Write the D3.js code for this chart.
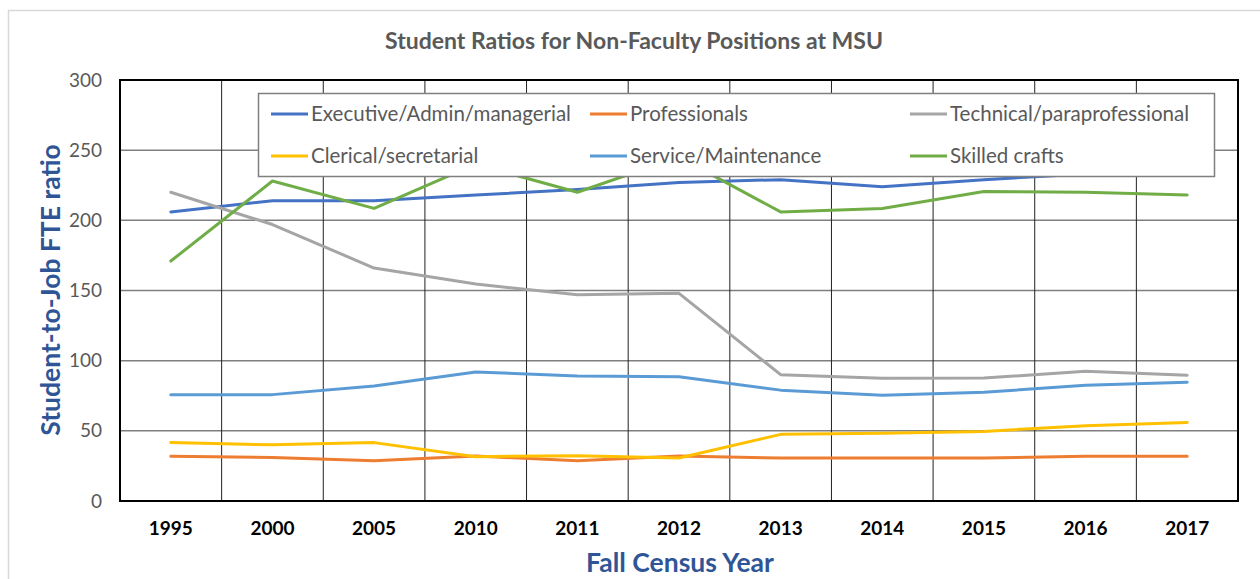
<!DOCTYPE html>
<html>
<head>
<meta charset="utf-8">
<script src="https://cdn.jsdelivr.net/npm/d3@7"></script>
<style>
  body { margin: 0; background: #fff; }
  svg { display: block; font-family: Lato, "Open Sans", sans-serif; }
</style>
</head>
<body>
<script>
var years = ["1995", "2000", "2005", "2010", "2011", "2012", "2013", "2014", "2015", "2016", "2017"];
var executive = [206, 214, 214, 218, 222, 227, 229, 224, 229, 233, 238];
var professionals = [31.8, 31, 28.7, 32, 28.7, 32, 30.6, 30.6, 30.6, 31.8, 31.8];
var technical = [220, 197, 166, 154.6, 147, 148, 90, 87.4, 87.6, 92.4, 89.6];
var clerical = [41.6, 40, 41.6, 31.6, 32.3, 30.6, 47.5, 48.2, 49.6, 53.7, 56];
var service = [75.8, 75.8, 82, 92, 89, 88.5, 79, 75.3, 77.5, 82.4, 84.6];
var skilled = [171, 228, 208.5, 240, 220, 245, 206, 208.5, 220.5, 220, 218];
var yTicks = [0, 50, 100, 150, 200, 250, 300];

var series = [
    { name: "Executive/Admin/managerial", values: executive, color: "#4472C4" },
    { name: "Professionals", values: professionals, color: "#ED7D31" },
    { name: "Technical/paraprofessional", values: technical, color: "#A5A5A5" },
    { name: "Clerical/secretarial", values: clerical, color: "#FFC000" },
    { name: "Service/Maintenance", values: service, color: "#5B9BD5" },
    { name: "Skilled crafts", values: skilled, color: "#70AD47" }
];

var width = 1260,
    height = 579,
    plotLeft = 120, plotRight = 1238, plotTop = 80, plotBottom = 501;

var svg = d3.select("body").append("svg")
    .attr("width", width)
    .attr("height", height);

// outer chart frame
svg.append("rect")
    .attr("x", 8.5).attr("y", 10.5)
    .attr("width", 1300).attr("height", 700)
    .attr("fill", "none")
    .attr("stroke", "#d9d9d9")
    .attr("stroke-width", 1.5);

var xScale = d3.scaleBand().domain(years).range([plotLeft, plotRight]);
var yScale = d3.scaleLinear().domain([0, 300]).range([plotBottom, plotTop]);

// horizontal gridlines
svg.append("g")
    .selectAll("line")
    .data(yTicks.slice(1, -1))
    .enter().append("line")
    .attr("x1", plotLeft).attr("x2", plotRight)
    .attr("y1", function (d) { return yScale(d); })
    .attr("y2", function (d) { return yScale(d); })
    .attr("stroke", "#7f7f7f")
    .attr("stroke-width", 1.5);

// vertical gridlines at category boundaries
svg.append("g")
    .selectAll("line")
    .data(years.slice(1))
    .enter().append("line")
    .attr("x1", function (d) { return xScale(d); })
    .attr("x2", function (d) { return xScale(d); })
    .attr("y1", plotTop).attr("y2", plotBottom)
    .attr("stroke", "#222")
    .attr("stroke-width", 1);

// y tick labels
var yAxis = svg.append("g")
    .attr("transform", "translate(" + plotLeft + ",0)")
    .call(d3.axisLeft(yScale).tickValues(yTicks).tickSize(0).tickPadding(18));
yAxis.select(".domain").remove();
yAxis.selectAll("text")
    .attr("fill", "#595959")
    .style("font-size", "19px")
    .style("font-family", "Lato, sans-serif");

// x tick labels
var xAxis = svg.append("g")
    .attr("transform", "translate(0," + plotBottom + ")")
    .call(d3.axisBottom(xScale).tickSize(0).tickPadding(21));
xAxis.select(".domain").remove();
xAxis.selectAll("text")
    .attr("fill", "#000")
    .style("font-size", "19px")
    .style("font-weight", "bold")
    .style("font-family", "Lato, sans-serif");

// lines
var line = d3.line()
    .x(function (d, i) { return xScale(years[i]) + xScale.bandwidth() / 2; })
    .y(function (d) { return yScale(d); });

svg.append("g")
    .selectAll("path")
    .data(series)
    .enter().append("path")
    .attr("d", function (d) { return line(d.values); })
    .attr("fill", "none")
    .attr("stroke", function (d) { return d.color; })
    .attr("stroke-width", 3)
    .attr("stroke-linejoin", "round")
    .attr("stroke-linecap", "round");

// plot border
svg.append("rect")
    .attr("x", plotLeft).attr("y", plotTop)
    .attr("width", plotRight - plotLeft).attr("height", plotBottom - plotTop)
    .attr("fill", "none")
    .attr("stroke", "#000")
    .attr("stroke-width", 2);

// legend
var legend = svg.append("g");
legend.append("rect")
    .attr("x", 258.5).attr("y", 93.5)
    .attr("width", 956).attr("height", 83)
    .attr("fill", "#fff")
    .attr("stroke", "#7f7f7f")
    .attr("stroke-width", 1.5);

var colX = [271, 590, 910],
    rowY = [114, 156];

var item = legend.selectAll("g.item")
    .data(series)
    .enter().append("g")
    .attr("class", "item")
    .attr("transform", function (d, i) {
        return "translate(" + colX[i % 3] + "," + rowY[Math.floor(i / 3)] + ")";
    });
item.append("line")
    .attr("x1", 0).attr("x2", 37)
    .attr("stroke", function (d) { return d.color; })
    .attr("stroke-width", 3);
item.append("text")
    .attr("x", 40)
    .attr("dy", "0.35em")
    .attr("fill", "#595959")
    .style("font-size", "20.5px")
    .text(function (d) { return d.name; });

// titles
svg.append("text")
    .attr("x", 634).attr("y", 49)
    .attr("text-anchor", "middle")
    .attr("fill", "#595959")
    .style("font-size", "23px")
    .style("font-weight", "bold")
    .text("Student Ratios for Non-Faculty Positions at MSU");

svg.append("text")
    .attr("x", 680).attr("y", 572)
    .attr("text-anchor", "middle")
    .attr("fill", "#2F5597")
    .style("font-size", "26.5px")
    .style("font-weight", "bold")
    .text("Fall Census Year");

svg.append("text")
    .attr("transform", "translate(60,290) rotate(-90)")
    .attr("text-anchor", "middle")
    .attr("fill", "#2F5597")
    .style("font-size", "26.5px")
    .style("font-weight", "bold")
    .text("Student-to-Job FTE ratio");
</script>
</body>
</html>
